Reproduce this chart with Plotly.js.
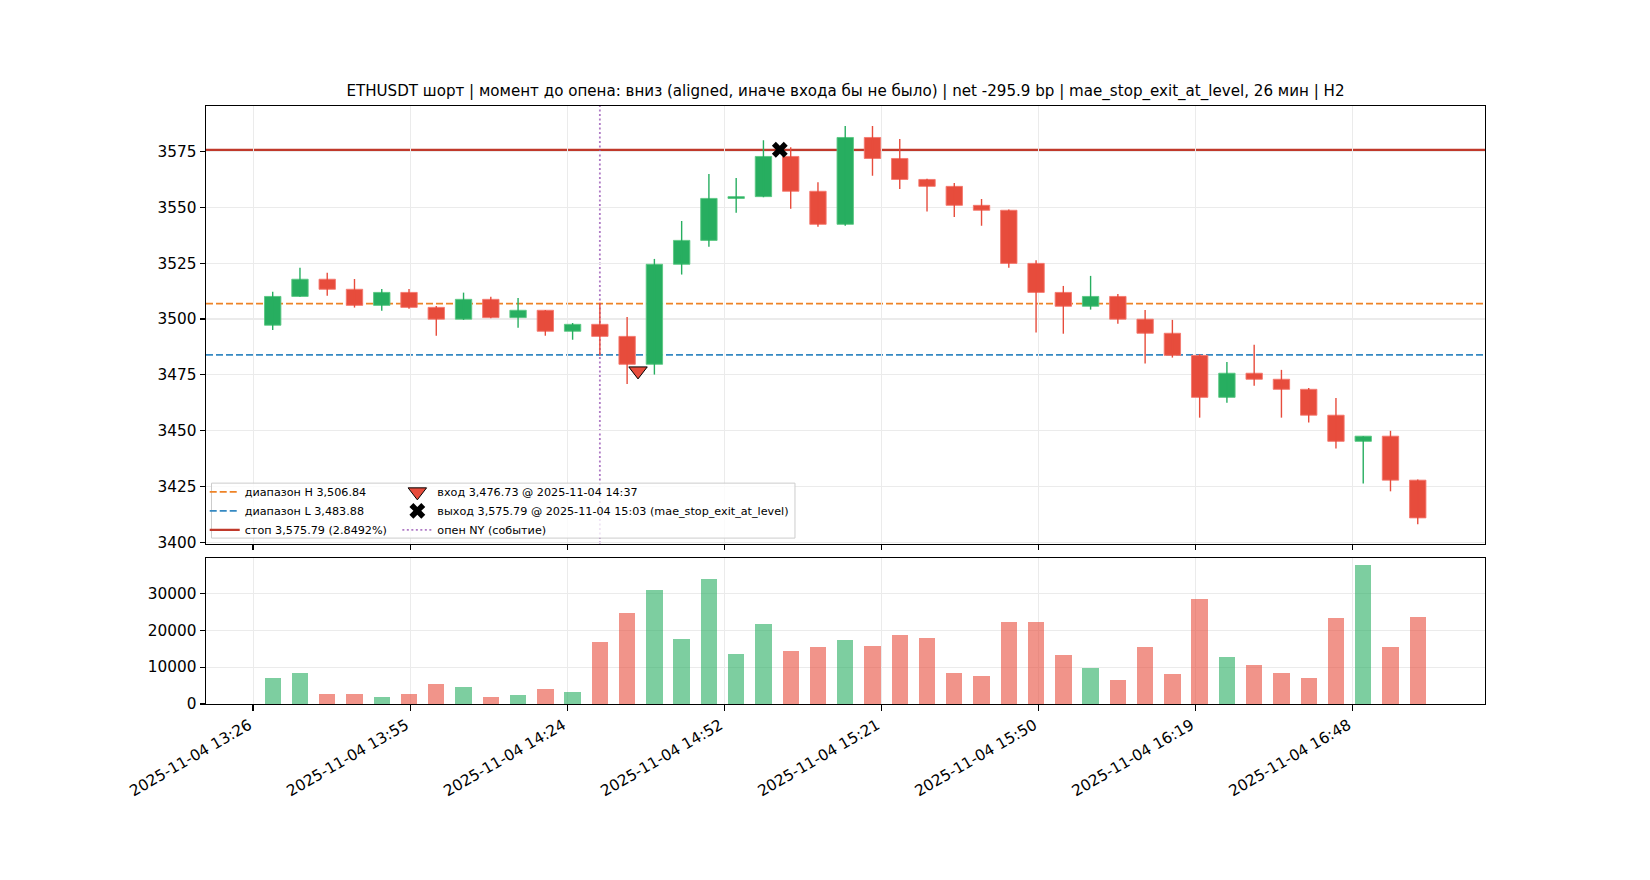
<!DOCTYPE html>
<html>
<head>
<meta charset="utf-8">
<script src="https://cdn.plot.ly/plotly-3.0.1.min.js"></script>
<style>html,body{margin:0;padding:0;background:#fff;}#chart{width:1650px;height:880px;}</style>
</head>
<body>
<div id="chart"></div>
<script>
// ---------------- data ----------------
const DAY = '2025-11-04';
const TIMES = ['13:30','13:35','13:40','13:45','13:50','13:55','14:00','14:05','14:10','14:15','14:20','14:25',
  '14:30','14:35','14:40','14:45','14:50','14:55','15:00','15:05','15:10','15:15','15:20','15:25',
  '15:30','15:35','15:40','15:45','15:50','15:55','16:00','16:05','16:10','16:15','16:20','16:25',
  '16:30','16:35','16:40','16:45','16:50','16:55','17:00'];
const OPEN  = [3497.2,3510.1,3517.8,3513.3,3506.1,3511.9,3505.2,3499.9,3508.8,3500.6,3503.9,3494.5,
  3497.6,3492.2,3479.7,3524.5,3535.2,3554.0,3554.8,3572.8,3557.2,3542.4,3581.3,3571.9,
  3562.5,3559.4,3550.9,3548.7,3524.9,3511.9,3505.7,3510.1,3499.9,3493.6,3483.7,3464.9,
  3475.7,3473.0,3468.5,3456.9,3445.2,3447.5,3427.8];
const HIGH  = [3512.2,3523.0,3520.7,3517.9,3513.4,3513.4,3505.8,3511.8,3509.9,3509.4,3504.0,3498.2,
  3507.3,3500.9,3526.9,3543.9,3564.9,3563.1,3580.1,3576.9,3561.3,3586.4,3586.4,3580.6,
  3562.8,3560.9,3553.7,3549.0,3526.3,3514.8,3519.3,3511.2,3504.0,3499.6,3484.2,3480.7,
  3488.4,3477.2,3469.1,3464.6,3447.5,3449.9,3428.1];
const LOW   = [3495.1,3510.0,3510.4,3505.1,3503.7,3504.6,3492.5,3499.6,3500.3,3496.1,3492.5,3490.7,
  3483.6,3470.9,3475.1,3519.9,3532.4,3547.6,3554.5,3549.4,3541.3,3541.8,3564.2,3558.2,
  3548.1,3545.7,3541.8,3523.0,3493.9,3493.4,3504.2,3497.9,3480.0,3482.7,3455.8,3462.5,
  3470.1,3455.8,3453.6,3442.0,3426.3,3422.8,3408.1];
const CLOSE = [3510.1,3517.8,3513.3,3506.1,3511.9,3505.2,3499.9,3508.8,3500.6,3503.9,3494.5,3497.6,
  3492.2,3479.7,3524.5,3535.2,3554.0,3554.8,3572.8,3557.2,3542.4,3581.3,3571.9,3562.5,
  3559.4,3550.9,3548.7,3524.9,3511.9,3505.7,3510.1,3499.9,3493.6,3483.7,3464.9,3475.7,
  3473.0,3468.5,3456.9,3445.2,3447.5,3427.8,3410.9];
const VOLUME = [7050,8400,2710,2710,1900,2710,5420,4610,1900,2440,4065,3250,
  16800,24660,30890,17615,33875,13550,21680,14360,15450,17340,15720,18700,
  17890,8400,7590,22220,22220,13280,9760,6500,15450,8130,28450,12740,
  10570,8400,7050,23310,37670,15450,23580];

const RANGE_H = 3506.84;
const RANGE_L = 3483.88;
const STOP = 3575.79;
const ENTRY_TIME = ['14:37'];
const ENTRY_PRICE = [3476.73];
const EXIT_TIME = ['15:03'];
const EXIT_PRICE = [3575.79];
const NY_OPEN = '14:30';

const X_TICK_TIMES = ['13:26:24','13:55:12','14:24:00','14:52:48','15:21:36','15:50:24','16:19:12','16:48:00'];
const X_TICK_LABELS = ['2025-11-04 13:26','2025-11-04 13:55','2025-11-04 14:24','2025-11-04 14:52',
  '2025-11-04 15:21','2025-11-04 15:50','2025-11-04 16:19','2025-11-04 16:48'];
const PRICE_TICKS = [3400,3425,3450,3475,3500,3525,3550,3575];
const VOLUME_TICKS = [0,10000,20000,30000];

const TITLE = 'ETHUSDT шорт | момент до опена: вниз (aligned, иначе входа бы не было) | net -295.9 bp | mae_stop_exit_at_level, 26 мин | H2';
const LEGEND_LABELS = {
  h: 'диапазон H 3,506.84',
  l: 'диапазон L 3,483.88',
  stop: 'стоп 3,575.79 (2.8492%)',
  entry: 'вход 3,476.73 @ 2025-11-04 14:37',
  exit: 'выход 3,575.79 @ 2025-11-04 15:03 (mae_stop_exit_at_level)',
  ny: 'опен NY (событие)'
};

// ---------------- styles ----------------
const GREEN = '#27ae60', RED = '#e74c3c';
const GREEN_VOL = 'rgba(39,174,96,0.6)', RED_VOL = 'rgba(231,76,60,0.6)';
const FONT = 'DejaVu Sans';
const C_H = '#ee8327', C_L = '#3589c2', C_STOP = '#c0392b', C_NY = 'rgba(155,89,182,0.8)';

const t = s => DAY + ' ' + (s.length === 5 ? s + ':00' : s);
const X = TIMES.map(t);
const up = CLOSE.map((c, i) => c >= OPEN[i]);

// wick traces
function wicks(isUp) {
  const xs = [], ys = [];
  X.forEach((x, i) => {
    if (up[i] === isUp) { xs.push(x, x, null); ys.push(LOW[i], HIGH[i], null); }
  });
  return {type: 'scatter', mode: 'lines', x: xs, y: ys, xaxis: 'x', yaxis: 'y',
    line: {color: isUp ? GREEN : RED, width: 1.4}, hoverinfo: 'skip', showlegend: false};
}

const bodies = {
  type: 'bar', x: X, xaxis: 'x', yaxis: 'y',
  base: OPEN.map((o, i) => Math.min(o, CLOSE[i])),
  y: OPEN.map((o, i) => Math.max(Math.abs(CLOSE[i] - o), 0.3)),
  width: 180000,
  marker: {color: up.map(u => u ? GREEN : RED),
           line: {color: up.map(u => u ? 'rgba(90,200,130,0.9)' : 'rgba(245,120,110,0.9)'), width: 1}},
  hoverinfo: 'skip', showlegend: false
};

const volume = {
  type: 'bar', x: X, y: VOLUME, xaxis: 'x2', yaxis: 'y2', width: 180000,
  marker: {color: up.map(u => u ? GREEN_VOL : RED_VOL), line: {width: 0}},
  hoverinfo: 'skip', showlegend: false
};

const entry = {
  type: 'scatter', mode: 'markers', x: ENTRY_TIME.map(t), y: ENTRY_PRICE, xaxis: 'x', yaxis: 'y',
  name: LEGEND_LABELS.entry, legend: 'legend2',
  marker: {symbol: 'triangle-down', size: 16, color: RED, line: {color: '#000', width: 1}}
};
const exit = {
  type: 'scatter', mode: 'markers', x: EXIT_TIME.map(t), y: EXIT_PRICE, xaxis: 'x', yaxis: 'y',
  name: LEGEND_LABELS.exit, legend: 'legend2',
  marker: {symbol: 'x', size: 14, color: '#000', line: {width: 0}}
};

function legendLine(name, color, dash, width, leg) {
  return {type: 'scatter', mode: 'lines', x: [null], y: [null], xaxis: 'x', yaxis: 'y',
    name: name, legend: leg, line: {color: color, dash: dash, width: width}, hoverinfo: 'skip'};
}

const traces = [
  wicks(true), wicks(false), bodies, volume,
  legendLine(LEGEND_LABELS.h, C_H, '7px,3px', 1.8, 'legend'),
  legendLine(LEGEND_LABELS.l, C_L, '7px,3px', 1.8, 'legend'),
  legendLine(LEGEND_LABELS.stop, C_STOP, 'solid', 2.2, 'legend'),
  entry, exit,
  legendLine(LEGEND_LABELS.ny, C_NY, '2px,2.5px', 1.8, 'legend2')
];

const shapes = [
  {type: 'line', layer: 'below', xref: 'x domain', yref: 'y', x0: 0, x1: 1, y0: RANGE_H, y1: RANGE_H,
   line: {color: C_H, width: 1.8, dash: '7px,3px'}},
  {type: 'line', layer: 'below', xref: 'x domain', yref: 'y', x0: 0, x1: 1, y0: RANGE_L, y1: RANGE_L,
   line: {color: C_L, width: 1.8, dash: '7px,3px'}},
  {type: 'line', layer: 'below', xref: 'x domain', yref: 'y', x0: 0, x1: 1, y0: STOP, y1: STOP,
   line: {color: C_STOP, width: 2.2}},
  {type: 'line', layer: 'below', xref: 'x', yref: 'y domain', x0: t(NY_OPEN), x1: t(NY_OPEN), y0: 0, y1: 1,
   line: {color: C_NY, width: 1.8, dash: '2px,2.5px'}},
  {type: 'rect', layer: 'above', xref: 'x domain', yref: 'y domain', x0: 0.0043, x1: 0.4605, y0: 0.0125, y1: 0.1381,
   fillcolor: 'rgba(255,255,255,0.8)', line: {color: '#cccccc', width: 1}}
];

const axisCommon = {
  showline: true, mirror: true, linecolor: '#000', linewidth: 1.2,
  ticks: 'outside', ticklen: 5.3, tickwidth: 1.2, tickcolor: '#000',
  showgrid: true, gridcolor: '#ebebeb', gridwidth: 1.1, zeroline: false,
  tickfont: {family: FONT, size: 15.3, color: '#000'}
};
const XRANGE = [t('13:17:46'), t('17:12:20')];

const layout = {
  width: 1650, height: 880,
  paper_bgcolor: '#fff', plot_bgcolor: '#fff',
  font: {family: FONT, color: '#000'},
  margin: {l: 206, r: 165, t: 106, b: 176, autoexpand: false},
  title: {text: TITLE, font: {family: FONT, size: 15.1, color: '#000'},
          xref: 'paper', x: 0.5, xanchor: 'center', yref: 'container', y: 1 - 91 / 880, yanchor: 'middle'},
  showlegend: true,
  bargap: 0,
  xaxis: Object.assign({}, axisCommon, {type: 'date', domain: [0, 1], anchor: 'y', range: XRANGE,
    tickmode: 'array', tickvals: X_TICK_TIMES.map(t), ticktext: X_TICK_LABELS, showticklabels: false}),
  yaxis: Object.assign({}, axisCommon, {domain: [0.2683, 1], anchor: 'x', range: [3399.4, 3595.4],
    tickmode: 'array', tickvals: PRICE_TICKS, ticktext: PRICE_TICKS.map(String)}),
  xaxis2: Object.assign({}, axisCommon, {type: 'date', domain: [0, 1], anchor: 'y2', matches: 'x', range: XRANGE,
    tickmode: 'array', tickvals: X_TICK_TIMES.map(t), ticktext: X_TICK_LABELS, tickangle: -30, ticklabelshift: -4}),
  yaxis2: Object.assign({}, axisCommon, {domain: [0, 0.2439], anchor: 'x2', range: [0, 39554],
    tickmode: 'array', tickvals: VOLUME_TICKS, ticktext: VOLUME_TICKS.map(String)}),
  legend: {x: -0.001, y: 0.3790, xref: 'paper', yref: 'paper', xanchor: 'left', yanchor: 'top',
    bgcolor: 'rgba(0,0,0,0)', borderwidth: 0, font: {family: FONT, size: 11.2, color: '#000'}, traceorder: 'normal'},
  legend2: {x: 0.1496, y: 0.3790, xref: 'paper', yref: 'paper', xanchor: 'left', yanchor: 'top',
    bgcolor: 'rgba(0,0,0,0)', borderwidth: 0, font: {family: FONT, size: 11.2, color: '#000'}, traceorder: 'normal'},
  shapes: shapes,
  hovermode: false
};

Plotly.newPlot('chart', traces, layout, {displayModeBar: false, staticPlot: true});
</script>
</body>
</html>
